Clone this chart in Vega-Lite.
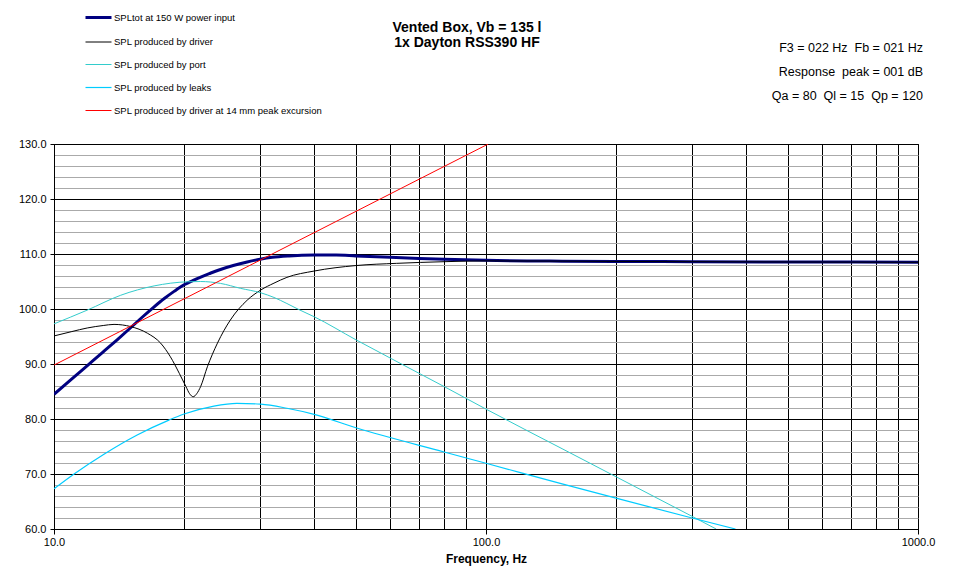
{
  "$schema": "https://vega.github.io/schema/vega-lite/v6.json",
  "width": 864,
  "height": 385,
  "autosize": {"type": "none"},
  "padding": {"left": 54, "top": 144, "right": 37, "bottom": 47},
  "background": "white",
  "config": {
    "font": "Liberation Sans",
    "view": {"stroke": "#000000", "strokeWidth": 1}
  },
  "title": {
    "text": ["Vented Box, Vb = 135 l", "1x Dayton RSS390 HF"],
    "font": "Liberation Sans",
    "fontSize": 14,
    "fontWeight": "bold",
    "color": "#000000",
    "anchor": "middle",
    "dx": -19,
    "offset": -47,
    "lineHeight": 15
  },
  "resolve": {"axis": {"y": "independent"}},
  "layer": [
    {
      "data": {
        "values": [
          {"series": "SPLtot at 150 W power input", "frequency": 10, "spl": 84.5},
          {"series": "SPLtot at 150 W power input", "frequency": 11, "spl": 87.3},
          {"series": "SPLtot at 150 W power input", "frequency": 12, "spl": 89.85},
          {"series": "SPLtot at 150 W power input", "frequency": 13, "spl": 92.2},
          {"series": "SPLtot at 150 W power input", "frequency": 14, "spl": 94.4},
          {"series": "SPLtot at 150 W power input", "frequency": 15, "spl": 96.5},
          {"series": "SPLtot at 150 W power input", "frequency": 16, "spl": 98.5},
          {"series": "SPLtot at 150 W power input", "frequency": 17, "spl": 100.3},
          {"series": "SPLtot at 150 W power input", "frequency": 18, "spl": 101.9},
          {"series": "SPLtot at 150 W power input", "frequency": 19, "spl": 103.25},
          {"series": "SPLtot at 150 W power input", "frequency": 20, "spl": 104.4},
          {"series": "SPLtot at 150 W power input", "frequency": 21, "spl": 105.2},
          {"series": "SPLtot at 150 W power input", "frequency": 22, "spl": 105.9},
          {"series": "SPLtot at 150 W power input", "frequency": 23, "spl": 106.5},
          {"series": "SPLtot at 150 W power input", "frequency": 24, "spl": 107.05},
          {"series": "SPLtot at 150 W power input", "frequency": 26, "spl": 107.9},
          {"series": "SPLtot at 150 W power input", "frequency": 28, "spl": 108.55},
          {"series": "SPLtot at 150 W power input", "frequency": 30, "spl": 109.05},
          {"series": "SPLtot at 150 W power input", "frequency": 32, "spl": 109.4},
          {"series": "SPLtot at 150 W power input", "frequency": 35, "spl": 109.65},
          {"series": "SPLtot at 150 W power input", "frequency": 40, "spl": 109.8},
          {"series": "SPLtot at 150 W power input", "frequency": 45, "spl": 109.8},
          {"series": "SPLtot at 150 W power input", "frequency": 50, "spl": 109.65},
          {"series": "SPLtot at 150 W power input", "frequency": 60, "spl": 109.4},
          {"series": "SPLtot at 150 W power input", "frequency": 70, "spl": 109.2},
          {"series": "SPLtot at 150 W power input", "frequency": 80, "spl": 109.05},
          {"series": "SPLtot at 150 W power input", "frequency": 100, "spl": 108.85},
          {"series": "SPLtot at 150 W power input", "frequency": 150, "spl": 108.7},
          {"series": "SPLtot at 150 W power input", "frequency": 200, "spl": 108.65},
          {"series": "SPLtot at 150 W power input", "frequency": 300, "spl": 108.6},
          {"series": "SPLtot at 150 W power input", "frequency": 500, "spl": 108.55},
          {"series": "SPLtot at 150 W power input", "frequency": 1000, "spl": 108.5},

          {"series": "SPL produced by driver", "frequency": 10, "spl": 95.1},
          {"series": "SPL produced by driver", "frequency": 11, "spl": 95.9},
          {"series": "SPL produced by driver", "frequency": 11.94, "spl": 96.55},
          {"series": "SPL produced by driver", "frequency": 13, "spl": 97.0},
          {"series": "SPL produced by driver", "frequency": 13.77, "spl": 97.2},
          {"series": "SPL produced by driver", "frequency": 15.05, "spl": 96.8},
          {"series": "SPL produced by driver", "frequency": 16.45, "spl": 95.6},
          {"series": "SPL produced by driver", "frequency": 17.65, "spl": 93.8},
          {"series": "SPL produced by driver", "frequency": 18.6, "spl": 91.3},
          {"series": "SPL produced by driver", "frequency": 19.5, "spl": 88.3},
          {"series": "SPL produced by driver", "frequency": 20.2, "spl": 85.9},
          {"series": "SPL produced by driver", "frequency": 20.6, "spl": 84.6},
          {"series": "SPL produced by driver", "frequency": 21.0, "spl": 84.05},
          {"series": "SPL produced by driver", "frequency": 21.4, "spl": 84.6},
          {"series": "SPL produced by driver", "frequency": 21.85, "spl": 85.9},
          {"series": "SPL produced by driver", "frequency": 22.65, "spl": 89.5},
          {"series": "SPL produced by driver", "frequency": 23.9, "spl": 93.8},
          {"series": "SPL produced by driver", "frequency": 25.6, "spl": 98.0},
          {"series": "SPL produced by driver", "frequency": 28.0, "spl": 101.6},
          {"series": "SPL produced by driver", "frequency": 30.1, "spl": 103.45},
          {"series": "SPL produced by driver", "frequency": 32.3, "spl": 104.7},
          {"series": "SPL produced by driver", "frequency": 34.6, "spl": 105.75},
          {"series": "SPL produced by driver", "frequency": 40, "spl": 106.9},
          {"series": "SPL produced by driver", "frequency": 50, "spl": 107.9},
          {"series": "SPL produced by driver", "frequency": 62, "spl": 108.3},
          {"series": "SPL produced by driver", "frequency": 80, "spl": 108.6},
          {"series": "SPL produced by driver", "frequency": 100, "spl": 108.75},
          {"series": "SPL produced by driver", "frequency": 150, "spl": 108.7},
          {"series": "SPL produced by driver", "frequency": 200, "spl": 108.65},
          {"series": "SPL produced by driver", "frequency": 300, "spl": 108.6},
          {"series": "SPL produced by driver", "frequency": 500, "spl": 108.55},
          {"series": "SPL produced by driver", "frequency": 1000, "spl": 108.5},

          {"series": "SPL produced by port", "frequency": 10, "spl": 97.3},
          {"series": "SPL produced by port", "frequency": 11.94, "spl": 99.8},
          {"series": "SPL produced by port", "frequency": 14.27, "spl": 102.5},
          {"series": "SPL produced by port", "frequency": 17.05, "spl": 104.2},
          {"series": "SPL produced by port", "frequency": 20.36, "spl": 104.95},
          {"series": "SPL produced by port", "frequency": 21.85, "spl": 105.0},
          {"series": "SPL produced by port", "frequency": 24.3, "spl": 104.65},
          {"series": "SPL produced by port", "frequency": 27.05, "spl": 103.75},
          {"series": "SPL produced by port", "frequency": 30.1, "spl": 102.95},
          {"series": "SPL produced by port", "frequency": 32.3, "spl": 102.1},
          {"series": "SPL produced by port", "frequency": 34.6, "spl": 101.0},
          {"series": "SPL produced by port", "frequency": 37.1, "spl": 99.8},
          {"series": "SPL produced by port", "frequency": 40, "spl": 98.6},
          {"series": "SPL produced by port", "frequency": 50, "spl": 94.4},
          {"series": "SPL produced by port", "frequency": 80, "spl": 85.9},
          {"series": "SPL produced by port", "frequency": 100, "spl": 81.8},
          {"series": "SPL produced by port", "frequency": 150, "spl": 74.6},
          {"series": "SPL produced by port", "frequency": 200, "spl": 69.5},
          {"series": "SPL produced by port", "frequency": 300, "spl": 62.3},
          {"series": "SPL produced by port", "frequency": 341, "spl": 60.0},

          {"series": "SPL produced by leaks", "frequency": 10, "spl": 67.3},
          {"series": "SPL produced by leaks", "frequency": 11.13, "spl": 70.0},
          {"series": "SPL produced by leaks", "frequency": 13.05, "spl": 73.6},
          {"series": "SPL produced by leaks", "frequency": 15.58, "spl": 77.1},
          {"series": "SPL produced by leaks", "frequency": 18.45, "spl": 79.8},
          {"series": "SPL produced by leaks", "frequency": 20, "spl": 80.9},
          {"series": "SPL produced by leaks", "frequency": 23.45, "spl": 82.35},
          {"series": "SPL produced by leaks", "frequency": 26.5, "spl": 82.85},
          {"series": "SPL produced by leaks", "frequency": 30.1, "spl": 82.7},
          {"series": "SPL produced by leaks", "frequency": 34.6, "spl": 81.95},
          {"series": "SPL produced by leaks", "frequency": 40, "spl": 80.85},
          {"series": "SPL produced by leaks", "frequency": 50, "spl": 78.4},
          {"series": "SPL produced by leaks", "frequency": 80, "spl": 74.0},
          {"series": "SPL produced by leaks", "frequency": 100, "spl": 71.95},
          {"series": "SPL produced by leaks", "frequency": 150, "spl": 68.2},
          {"series": "SPL produced by leaks", "frequency": 200, "spl": 65.6},
          {"series": "SPL produced by leaks", "frequency": 300, "spl": 62.0},
          {"series": "SPL produced by leaks", "frequency": 378, "spl": 60.0},

          {"series": "SPL produced by driver at 14 mm peak excursion", "frequency": 10, "spl": 89.8},
          {"series": "SPL produced by driver at 14 mm peak excursion", "frequency": 101.2, "spl": 130.0}
        ]
      },
      "mark": {"type": "line", "interpolate": "monotone", "clip": true},
      "encoding": {
        "x": {
          "field": "frequency",
          "type": "quantitative",
          "scale": {"type": "log", "domain": [10, 1000]},
          "axis": {
            "values": [10, 20, 30, 40, 50, 60, 70, 80, 90, 100, 200, 300, 400, 500, 600, 700, 800, 900, 1000],
            "labelExpr": "indexof([10, 100, 1000], datum.value) >= 0 ? format(datum.value, '.1f') : ''",
            "labelFlush": false,
            "labelOverlap": false,
            "labelFontSize": 11,
            "labelColor": "#000000",
            "labelPadding": 2,
            "grid": true,
            "gridColor": "#000000",
            "gridWidth": 1,
            "domainColor": "#000000",
            "tickColor": "#000000",
            "tickSize": 5,
            "tickOpacity": {"condition": {"test": "indexof([10, 100, 1000], datum.value) >= 0", "value": 1}, "value": 0},
            "title": "Frequency, Hz",
            "titleFontSize": 12,
            "titleFontWeight": "bold",
            "titleColor": "#000000",
            "titlePadding": 6
          }
        },
        "y": {
          "field": "spl",
          "type": "quantitative",
          "scale": {"domain": [60, 130], "nice": false, "zero": false},
          "axis": {
            "orient": "left",
            "values": [60, 70, 80, 90, 100, 110, 120, 130],
            "format": ".1f",
            "labelFontSize": 11,
            "labelColor": "#000000",
            "labelPadding": 4,
            "grid": true,
            "gridColor": "#000000",
            "gridWidth": 1,
            "domainColor": "#000000",
            "tickColor": "#000000",
            "tickSize": 4,
            "title": null
          }
        },
        "color": {
          "field": "series",
          "type": "nominal",
          "scale": {
            "domain": ["SPLtot at 150 W power input", "SPL produced by driver", "SPL produced by port", "SPL produced by leaks", "SPL produced by driver at 14 mm peak excursion"],
            "range": ["#000080", "#000000", "#33CCCC", "#00CCFF", "#FF0000"]
          },
          "legend": {
            "orient": "none",
            "legendX": 30,
            "legendY": -141,
            "title": null,
            "symbolType": "stroke",
            "symbolSize": 676,
            "labelFontSize": 9.5,
            "labelColor": "#000000",
            "labelOffset": 1,
            "labelLimit": 400,
            "rowPadding": 4.5,
            "padding": 0
          }
        },
        "strokeWidth": {
          "field": "series",
          "type": "nominal",
          "scale": {
            "type": "ordinal",
            "domain": ["SPLtot at 150 W power input", "SPL produced by driver", "SPL produced by port", "SPL produced by leaks", "SPL produced by driver at 14 mm peak excursion"],
            "range": [3, 1, 1, 1.2, 1]
          },
          "legend": {
            "orient": "none",
            "legendX": 30,
            "legendY": -141,
            "title": null,
            "symbolType": "stroke",
            "symbolSize": 676,
            "labelFontSize": 9.5,
            "labelColor": "#000000",
            "labelOffset": 1,
            "labelLimit": 400,
            "rowPadding": 4.5,
            "padding": 0
          }
        }
      }
    },
    {
      "data": {"values": [{}]},
      "mark": {
        "type": "text",
        "text": ["F3 = 022 Hz\u00a0\u00a0Fb = 021 Hz", "Response\u00a0\u00a0peak = 001 dB", "Qa = 80\u00a0\u00a0Ql = 15\u00a0\u00a0Qp = 120"],
        "align": "right",
        "baseline": "alphabetic",
        "fontSize": 12.5,
        "lineHeight": 24,
        "dx": 5,
        "color": "#000000"
      },
      "encoding": {
        "x": {"datum": 1000, "type": "quantitative", "scale": {"type": "log", "domain": [10, 1000]}},
        "y": {
          "datum": 146.7,
          "type": "quantitative",
          "scale": {"domain": [60, 130], "nice": false, "zero": false},
          "axis": {
            "orient": "right",
            "values": [62, 64, 66, 68, 72, 74, 76, 78, 82, 84, 86, 88, 92, 94, 96, 98, 102, 104, 106, 108, 112, 114, 116, 118, 122, 124, 126, 128],
            "grid": true,
            "gridColor": "#aaaaaa",
            "gridWidth": 1,
            "domain": false,
            "ticks": false,
            "labels": false,
            "title": null
          }
        }
      }
    }
  ]
}
